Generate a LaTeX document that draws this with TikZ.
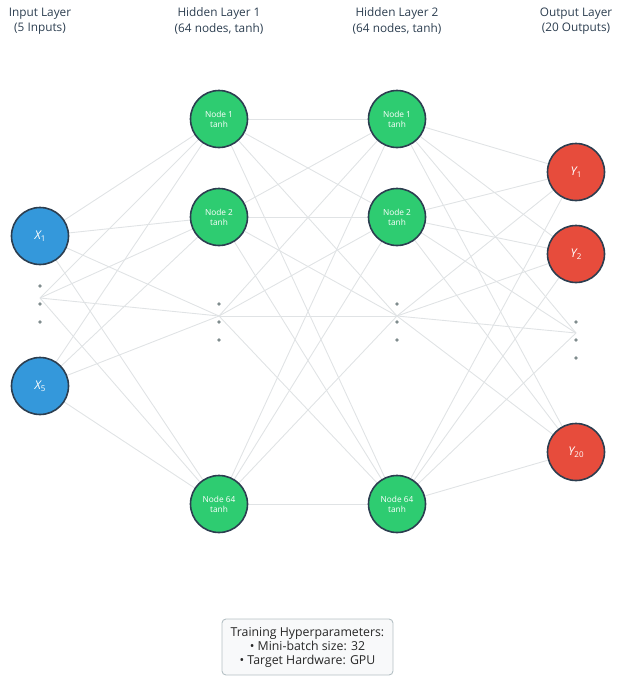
\documentclass[tikz,border=0pt]{standalone}
\usepackage{fontspec}
\setmainfont{Open Sans}
\definecolor{inblue}{HTML}{3498DB}
\definecolor{hidgreen}{HTML}{2ECC71}
\definecolor{outred}{HTML}{E74C3C}
\definecolor{border}{HTML}{2C3E50}
\definecolor{titlecol}{HTML}{2C3E50}
\definecolor{linegray}{HTML}{E0E3E5}
\definecolor{dotgray}{HTML}{7F8C8D}
\definecolor{boxfill}{HTML}{F8F9FA}
\definecolor{boxline}{HTML}{B4C0C4}
\pgfdeclarelayer{background}
\pgfsetlayers{background,main}
\begin{document}
\begin{tikzpicture}[x=1pt,y=-1pt,
  conn/.style={draw=linegray, line width=0.9pt},
  neuron/.style={circle, draw=border, line width=1.6pt, minimum size=57pt, inner sep=0pt, text=white, align=center},
  inp/.style={neuron, fill=inblue, font=\fontsize{12}{14}\selectfont},
  hid/.style={neuron, fill=hidgreen, font=\fontsize{8.3}{10}\selectfont},
  outp/.style={neuron, fill=outred, font=\fontsize{12}{14}\selectfont},
  dotmark/.style={circle, fill=dotgray, inner sep=0pt, minimum size=3.6pt},
  title/.style={align=center, text=titlecol, font=\fontsize{11.8}{15.5}\selectfont},
  infobox/.style={draw=boxline, fill=boxfill, rounded corners=4pt, line width=0.9pt, align=center, text=black!85, minimum width=171pt, minimum height=56pt, inner sep=3pt, font=\fontsize{12.3}{14}\selectfont}]
\useasboundingbox (0,0) rectangle (623,683);

% titles
\node[title] (t0) at (40,21) {Input Layer\\(5 Inputs)};
\node[title] (t1) at (219,21) {Hidden Layer 1\\(64 nodes, tanh)};
\node[title] (t2) at (397,21) {Hidden Layer 2\\(64 nodes, tanh)};
\node[title] (t3) at (576,21) {Output Layer\\(20 Outputs)};

% input layer
\node[inp] (x1) at (40,236) {{\itshape X}\raisebox{-2pt}{\fontsize{8}{8}\selectfont 1}};
\node[inp] (x5) at (40,386) {{\itshape X}\raisebox{-2pt}{\fontsize{8}{8}\selectfont 5}};
\coordinate (ie) at (40,298);
\node[dotmark] (id1) at (40,286) {};
\node[dotmark] (id2) at (40,304) {};
\node[dotmark] (id3) at (40,322) {};

% hidden layer 1
\node[hid] (h1a) at (219,119) {Node 1\\tanh};
\node[hid] (h1b) at (219,217) {Node 2\\tanh};
\node[hid] (h1z) at (219,504) {Node 64\\tanh};
\coordinate (h1e) at (219,316);
\node[dotmark] (hd1) at (219,304) {};
\node[dotmark] (hd2) at (219,322) {};
\node[dotmark] (hd3) at (219,340) {};

% hidden layer 2
\node[hid] (h2a) at (397,119) {Node 1\\tanh};
\node[hid] (h2b) at (397,217) {Node 2\\tanh};
\node[hid] (h2z) at (397,504) {Node 64\\tanh};
\coordinate (h2e) at (397,316);
\node[dotmark] (gd1) at (397,304) {};
\node[dotmark] (gd2) at (397,322) {};
\node[dotmark] (gd3) at (397,340) {};

% output layer
\node[outp] (y1) at (576,172) {{\itshape Y}\raisebox{-2pt}{\fontsize{8}{8}\selectfont 1}};
\node[outp] (y2) at (576,254) {{\itshape Y}\raisebox{-2pt}{\fontsize{8}{8}\selectfont 2}};
\node[outp] (y20) at (576,452) {{\itshape Y}\raisebox{-2pt}{\fontsize{8}{8}\selectfont 20}};
\coordinate (oe) at (576,333);
\node[dotmark] (od1) at (576,322) {};
\node[dotmark] (od2) at (576,340) {};
\node[dotmark] (od3) at (576,358) {};

% connections
\begin{pgfonlayer}{background}
\foreach \a in {x1,ie,x5}
  \foreach \b in {h1a,h1b,h1e,h1z}
    \draw[conn] (\a) -- (\b);
\foreach \a in {h1a,h1b,h1e,h1z}
  \foreach \b in {h2a,h2b,h2e,h2z}
    \draw[conn] (\a) -- (\b);
\foreach \a in {h2a,h2b,h2e,h2z}
  \foreach \b in {y1,y2,oe,y20}
    \draw[conn] (\a) -- (\b);
\end{pgfonlayer}

% info box
\node[infobox] (info) at (307.5,647) {Training Hyperparameters:\\\textbullet\ Mini-batch size: 32\\\textbullet\ Target Hardware: GPU};
\end{tikzpicture}
\end{document}
